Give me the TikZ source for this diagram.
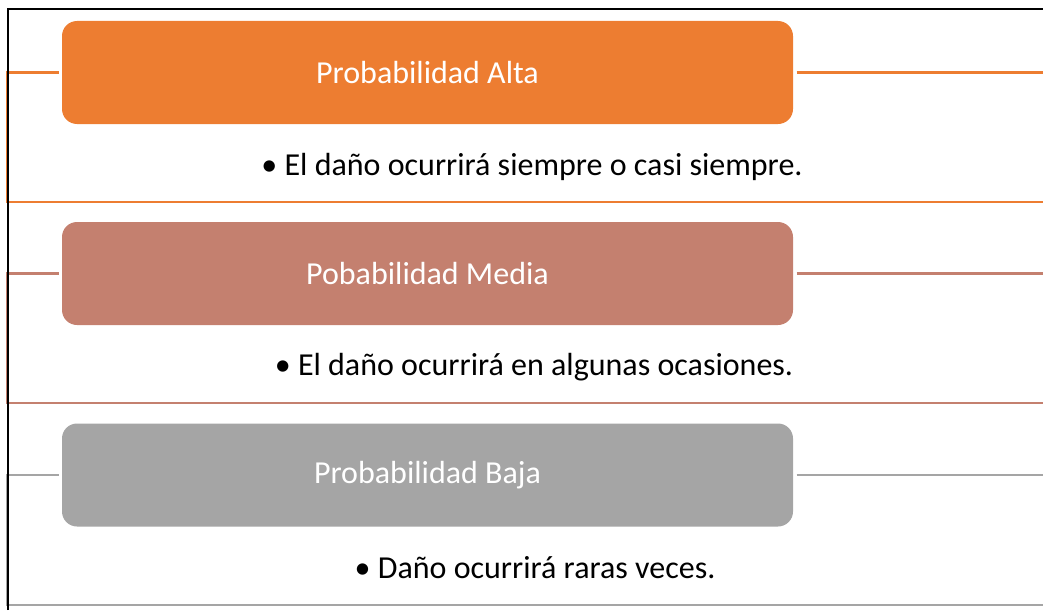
\documentclass[tikz,border=0pt]{standalone}
\usepackage{fontspec}
\setmainfont{Carlito}
\usetikzlibrary{arrows}
\definecolor{altaorange}{HTML}{ED7D31}
\definecolor{mediarose}{HTML}{C4806F}
\definecolor{bajagray}{HTML}{A5A5A5}

\begin{document}
\begin{tikzpicture}[x=1pt,y=-1pt,
	levelbox/.style={rectangle,rounded corners=15pt,minimum width=731pt,minimum height=103pt,
		outer sep=3.5pt,text=white,font=\fontsize{32}{36}\selectfont},
	itemtext/.style={font=\fontsize{32}{36}\selectfont,text=black},
	levelline/.style={line width=2.6pt}]
		\useasboundingbox (0,0) rectangle (1043,610);
%		\draw[help lines] (0,0) grid (1043,610);
		\path (7,72.5) coordinate (alta_left);
		\path (1043,72.5) coordinate (alta_right);
		\path (7,202) coordinate (alta_lb);
		\path (1043,202) coordinate (alta_rb);
		\path (7,273.5) coordinate (media_left);
		\path (1043,273.5) coordinate (media_right);
		\path (7,403) coordinate (media_lb);
		\path (1043,403) coordinate (media_rb);
		\path (7,475) coordinate (baja_left);
		\path (1043,475) coordinate (baja_right);
		\path (7,605) coordinate (baja_lb);
		\path (1043,605) coordinate (baja_rb);
		\path (8,610) coordinate (frame_bottom);
		\path (8,9) coordinate (frame_corner);
		\path (1043,9) coordinate (frame_right);

		\path (427.5,72.5) node(alta) [levelbox,fill=altaorange] {Probabilidad Alta};
		\path (427.5,273.5) node(media) [levelbox,fill=mediarose] {Pobabilidad Media};
		\path (427.5,475) node(baja) [levelbox,fill=bajagray] {Probabilidad Baja};

		\path (532,167) node(alta_item) [itemtext] {• El daño ocurrirá siempre o casi siempre.};
		\path (534,367) node(media_item) [itemtext] {• El daño ocurrirá en algunas ocasiones.};
		\path (535,568) node(baja_item) [itemtext] {• Daño ocurrirá raras veces.};

		\draw[levelline,altaorange] (alta.west) -- (alta_left) -- (alta_lb) -- (alta_rb);
		\draw[levelline,altaorange] (alta.east) -- (alta_right);
		\draw[levelline,mediarose] (media.west) -- (media_left) -- (media_lb) -- (media_rb);
		\draw[levelline,mediarose] (media.east) -- (media_right);
		\draw[levelline,bajagray] (baja.west) -- (baja_left) -- (baja_lb) -- (baja_rb);
		\draw[levelline,bajagray] (baja.east) -- (baja_right);

		\draw[line width=2.2pt] (frame_bottom) -- (frame_corner) -- (frame_right);
	\end{tikzpicture}
\end{document}
